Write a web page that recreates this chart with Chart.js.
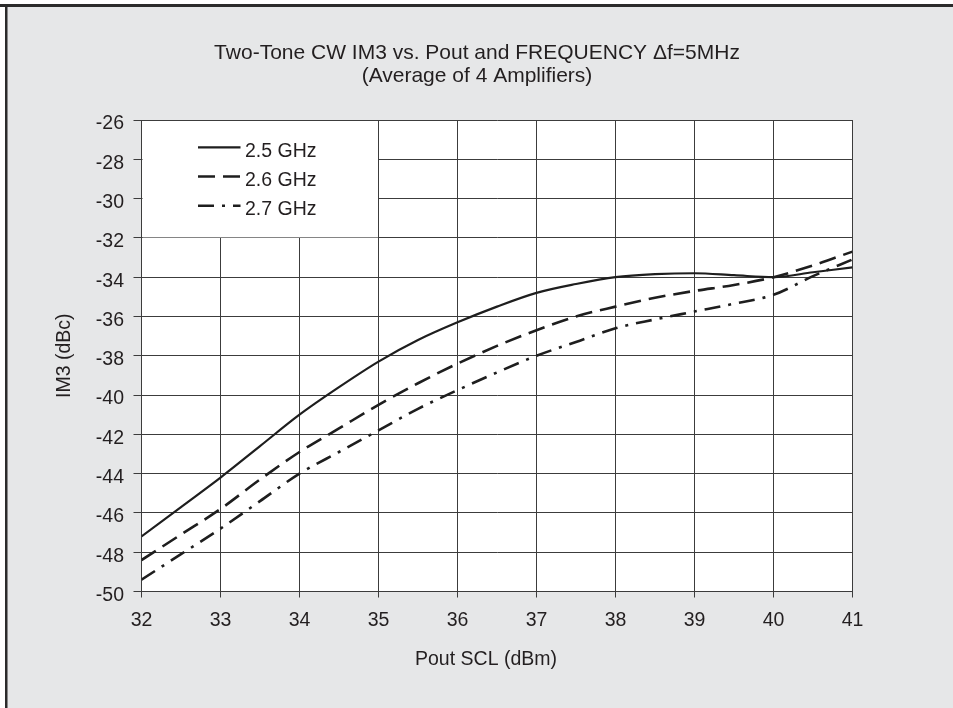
<!DOCTYPE html>
<html>
<head>
<meta charset="utf-8">
<script src="https://cdn.jsdelivr.net/npm/chart.js@4.4.0/dist/chart.umd.min.js"></script>
<style>
  html, body { margin: 0; padding: 0; background: #fff; }
  #wrap { width: 953px; height: 708px; }
</style>
</head>
<body>
<div id="wrap"><canvas id="im3Chart" width="953" height="708"></canvas></div>
<script>
// data
var pout = [32, 32.5, 33, 33.5, 34, 34.5, 35, 35.5, 36, 36.5, 37, 37.5, 38, 38.5, 39, 39.5, 40, 40.5, 41];
var im3_25 = [-47.2, -45.7, -44.2, -42.6, -41.0, -39.6, -38.3, -37.2, -36.3, -35.5, -34.8, -34.35, -34.0, -33.85, -33.8, -33.9, -34.0, -33.75, -33.5];
var im3_26 = [-48.4, -47.1, -45.8, -44.3, -42.9, -41.7, -40.5, -39.4, -38.4, -37.5, -36.7, -36.0, -35.5, -35.05, -34.7, -34.4, -34.0, -33.4, -32.7];
var im3_27 = [-49.4, -48.1, -46.8, -45.4, -44.0, -42.9, -41.8, -40.7, -39.75, -38.85, -38.0, -37.3, -36.6, -36.15, -35.75, -35.35, -34.9, -33.95, -33.1];
var seriesNames = ['2.5 GHz', '2.6 GHz', '2.7 GHz'];
var titleLines = ['Two-Tone CW IM3 vs. Pout and FREQUENCY \u0394f=5MHz', '(Average of 4 Amplifiers)'];
var xTitle = 'Pout SCL (dBm)';
var yTitle = 'IM3 (dBc)';

var FONT = "'Liberation Sans', Arial, Helvetica, sans-serif";
var INK = '#231f20';
var GRID = '#3c3c3c';

function pts(ys) {
    return pout.map(function (x, i) { return { x: x, y: ys[i] }; });
}

// MARK: page frame, titles, white plot, white legend box
var framePlugin = {
    id: 'frame',
    beforeDraw: function (chart) {
        var ctx = chart.ctx, a = chart.chartArea;
        ctx.save();
        ctx.fillStyle = '#fff';
        ctx.fillRect(0, 0, chart.width, chart.height);
        ctx.fillStyle = '#e6e7e8';
        ctx.fillRect(7, 7, chart.width - 7, chart.height - 7);
        ctx.fillStyle = '#2b2b2b';
        ctx.fillRect(0, 4, chart.width, 3);
        ctx.fillRect(5, 4, 2.5, chart.height);
        ctx.fillStyle = '#fff';
        ctx.fillRect(a.left, a.top, a.right - a.left, a.bottom - a.top);
        ctx.restore();
    },
    beforeDatasetsDraw: function (chart) {
        // legend box hides the grid from 32..35 / -26..-32
        var ctx = chart.ctx, xs = chart.scales.x, ys = chart.scales.y;
        var l = xs.getPixelForValue(32) + 1, r = xs.getPixelForValue(35) - 0.5;
        var t = ys.getPixelForValue(-26) + 1, b = ys.getPixelForValue(-32) - 0.5;
        ctx.save();
        ctx.fillStyle = '#fff';
        ctx.fillRect(l, t, r - l, b - t);
        ctx.restore();
    },
    afterDraw: function (chart) {
        var ctx = chart.ctx, a = chart.chartArea;
        ctx.save();
        ctx.fillStyle = INK;
        ctx.textBaseline = 'middle';
        // chart title, centred on the page
        ctx.textAlign = 'center';
        ctx.font = '21px ' + FONT;
        titleLines.forEach(function (line, i) {
            ctx.fillText(line, 477, 53.5 + i * 22.8);
        });
        // legend
        ctx.font = '19.5px ' + FONT;
        ctx.textAlign = 'left';
        chart.data.datasets.forEach(function (ds, i) {
            var y = a.top + 31.3 + i * 29.2;
            ctx.strokeStyle = ds.borderColor;
            ctx.lineWidth = ds.borderWidth;
            ctx.setLineDash(ds.borderDash || []);
            ctx.beginPath();
            ctx.moveTo(a.left + 56.5, y - 4);
            ctx.lineTo(a.left + 99, y - 4);
            ctx.stroke();
            ctx.fillText(ds.label, a.left + 103.5, y);
        });
        ctx.setLineDash([]);
        // x axis title
        ctx.textAlign = 'center';
        ctx.fillText(xTitle, 486, 660);
        ctx.restore();
    }
};

var ctx = document.getElementById('im3Chart');
var myChart = new Chart(ctx, {
    type: 'line',
    data: {
        datasets: [{
            label: seriesNames[0],
            data: pts(im3_25),
            borderColor: '#1e1e1e',
            borderWidth: 2.2,
            borderDash: []
        }, {
            label: seriesNames[1],
            data: pts(im3_26),
            borderColor: '#1e1e1e',
            borderWidth: 2.6,
            borderDash: [17, 8]
        }, {
            label: seriesNames[2],
            data: pts(im3_27),
            borderColor: '#1e1e1e',
            borderWidth: 2.6,
            borderDash: [16, 8, 3, 8]
        }]
    },
    options: {
        responsive: false,
        animation: false,
        events: [],
        elements: {
            point: { radius: 0 },
            line: { cubicInterpolationMode: 'monotone', fill: false }
        },
        layout: { padding: { left: 45, right: 100.5, top: 120, bottom: 20 } },
        plugins: {
            legend: { display: false },
            tooltip: { enabled: false },
            title: { display: false }
        },
        scales: {
            x: {
                type: 'linear',
                min: 32,
                max: 41,
                ticks: {
                    stepSize: 1,
                    color: INK,
                    font: { family: FONT, size: 19.5 },
                    padding: 11.5,
                    maxRotation: 0
                },
                grid: { color: GRID, lineWidth: 1, tickLength: 6 },
                border: { color: GRID, width: 1 },
                afterFit: function (axis) { axis.height = 96.5; }
            },
            y: {
                min: -50,
                max: -26,
                ticks: {
                    stepSize: 2,
                    color: INK,
                    font: { family: FONT, size: 19.5 },
                    padding: 9.5,
                    labelOffset: 4
                },
                grid: { color: GRID, lineWidth: 1, tickLength: 8 },
                border: { color: GRID, width: 1 },
                title: {
                    display: true,
                    text: yTitle,
                    color: INK,
                    font: { family: FONT, size: 19.5 },
                    padding: { top: 8.3, bottom: 0 }
                },
                afterFit: function (axis) { axis.width = 96.5; }
            }
        }
    },
    plugins: [framePlugin]
});
</script>
</body>
</html>
